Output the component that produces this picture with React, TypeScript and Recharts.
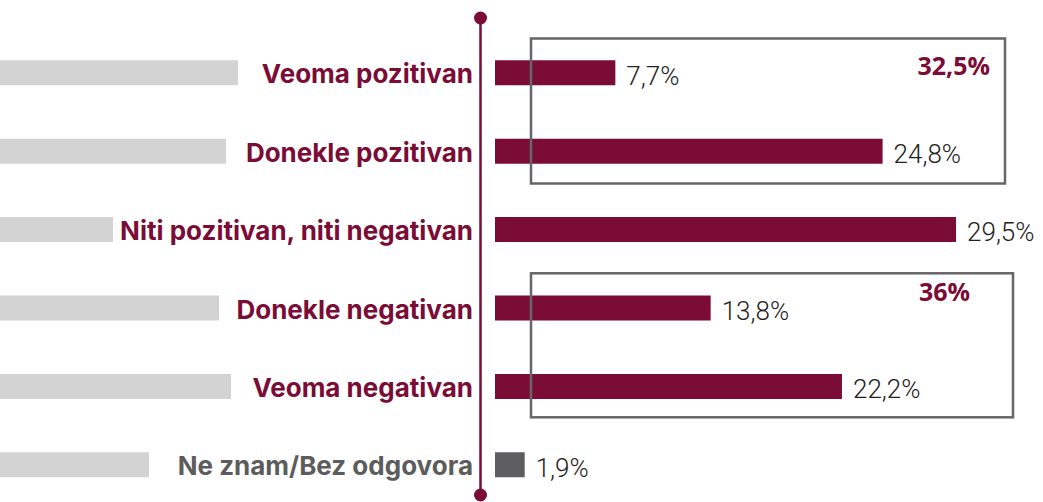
import React from 'react';
import { BarChart, Bar, XAxis, YAxis, Cell, LabelList } from 'recharts';

const categories = [
  'Veoma pozitivan',
  'Donekle pozitivan',
  'Niti pozitivan, niti negativan',
  'Donekle negativan',
  'Veoma negativan',
  'Ne znam/Bez odgovora',
];
const values = [7.7, 24.8, 29.5, 13.8, 22.2, 1.9];
const backdropLengths = [238, 226, 113, 219, 231, 149];
const groupTotals = ['32,5%', '36%'];

const MAROON = '#7a0c36';
const DARK_GRAY = '#5d5d5f';
const LIGHT_GRAY = '#d3d3d3';
const BOX_GRAY = '#666666';

const data = categories.map((name, i) => ({
  name,
  value: values[i],
  backdrop: backdropLengths[i],
}));

const fmt = (v: number) => `${String(v).replace('.', ',')}%`;

const CatTick = (props: any) => {
  const { x, y, payload, index } = props;
  const isLast = index === categories.length - 1;
  return (
    <text
      x={x}
      y={y}
      dy="0.42em"
      textAnchor="end"
      fill={isLast ? '#5c5c5c' : MAROON}
      fontFamily="Inter, sans-serif"
      fontWeight={700}
      fontSize={26}
    >
      {payload.value}
    </text>
  );
};

const ValueLabel = (props: any) => {
  const { x, y, width, height, value } = props;
  return (
    <text
      x={x + width + 11}
      y={y + height / 2}
      dy="0.45em"
      textAnchor="start"
      fill="#222"
      fontFamily="Roboto, sans-serif"
      fontWeight={300}
      fontSize={26}
    >
      {fmt(value)}
    </text>
  );
};

const margin = { top: 33.3, right: 1, bottom: 0.3, left: 0 };

export default function App() {
  return (
    <div
      style={{
        position: 'absolute',
        left: 0,
        top: 0,
        width: 1043,
        height: 502,
        overflow: 'hidden',
        background: '#fff',
      }}
    >
      <div style={{ position: 'absolute', left: 0, top: 0 }}>
        <BarChart layout="vertical" width={481} height={504} data={data} margin={{ ...margin, right: 0 }}>
          <XAxis type="number" domain={[0, 481]} hide />
          <YAxis type="category" dataKey="name" hide />
          <Bar dataKey="backdrop" barSize={25} fill={LIGHT_GRAY} isAnimationActive={false} />
        </BarChart>
      </div>
      <div style={{ position: 'absolute', left: 0, top: 0 }}>
        <BarChart layout="vertical" width={1043} height={504} data={data} margin={margin}>
          <XAxis type="number" domain={[0, 35]} hide />
          <YAxis
            type="category"
            dataKey="name"
            width={495}
            axisLine={false}
            tickLine={false}
            tickSize={0}
            tickMargin={22}
            interval={0}
            tick={<CatTick />}
          />
          <Bar dataKey="value" barSize={25} isAnimationActive={false}>
            {data.map((d, i) => (
              <Cell key={d.name} fill={i === data.length - 1 ? DARK_GRAY : MAROON} />
            ))}
            <LabelList dataKey="value" content={<ValueLabel />} />
          </Bar>
        </BarChart>
      </div>
      <svg
        width={1043}
        height={502}
        style={{ position: 'absolute', left: 0, top: 0, pointerEvents: 'none' }}
      >
        <line x1={480.5} y1={18} x2={480.5} y2={495} stroke={MAROON} strokeWidth={2.5} />
        <circle cx={480.5} cy={18} r={6.5} fill={MAROON} />
        <circle cx={480.5} cy={495} r={6.5} fill={MAROON} />
        <rect x={531} y={38.5} width={474} height={145} fill="none" stroke={BOX_GRAY} strokeWidth={2.5} />
        <rect x={531} y={273.3} width={482} height={144} fill="none" stroke={BOX_GRAY} strokeWidth={2.5} />
        <text
          x={990}
          y={75}
          textAnchor="end"
          fill={MAROON}
          fontFamily="'Open Sans', sans-serif"
          fontWeight={700}
          fontSize={25}
        >
          {groupTotals[0]}
        </text>
        <text
          x={970}
          y={301}
          textAnchor="end"
          fill={MAROON}
          fontFamily="'Open Sans', sans-serif"
          fontWeight={700}
          fontSize={25}
        >
          {groupTotals[1]}
        </text>
      </svg>
    </div>
  );
}
